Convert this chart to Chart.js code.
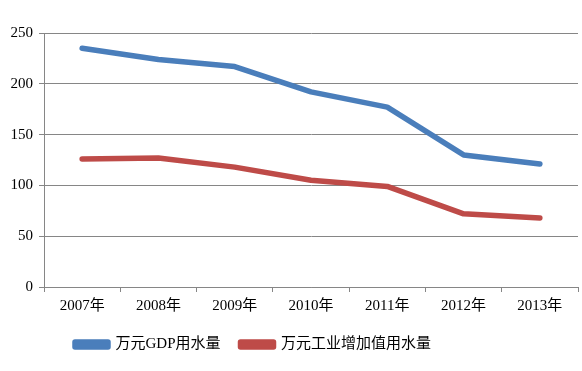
<!DOCTYPE html>
<html>
<head>
<meta charset="utf-8">
<script src="https://cdn.jsdelivr.net/npm/chart.js@4"></script>
<style>
  html, body { margin: 0; padding: 0; background: #fff; }
  #wrap { width: 582px; height: 371px; }
</style>
</head>
<body>
<div id="wrap"><canvas id="chart" width="582" height="371"></canvas></div>
<script>
const years = ['2007年', '2008年', '2009年', '2010年', '2011年', '2012年', '2013年'];
const gdpWater = [235, 224, 217, 192, 177, 130, 121];
const industryWater = [126, 127, 118, 105, 99, 72, 68];
const seriesNames = ['万元GDP用水量', '万元工业增加值用水量'];
const yTicks = [0, 50, 100, 150, 200, 250];

const FONT = '"Liberation Serif", "Noto Sans CJK SC", serif';
const GRID = '#868686';

// the legend in the picture sits left of centre
const legendShift = {
    id: 'legendShift',
    beforeDraw(chart) {
        const lg = chart.legend;
        if (lg && !lg._shifted) {
            lg.left -= 36;
            lg.right -= 36;
            lg._shifted = true;
        }
    }
};

new Chart(document.getElementById('chart'), {
    type: 'line',
    data: {
        labels: years,
        datasets: [
            {
                label: seriesNames[0],
                data: gdpWater,
                borderColor: '#4a7ebb',
                backgroundColor: '#4a7ebb',
                borderWidth: 5.5,
                pointRadius: 0,
                tension: 0,
                borderCapStyle: 'round',
                borderJoinStyle: 'round'
            },
            {
                label: seriesNames[1],
                data: industryWater,
                borderColor: '#be4b48',
                backgroundColor: '#be4b48',
                borderWidth: 5.5,
                pointRadius: 0,
                tension: 0,
                borderCapStyle: 'round',
                borderJoinStyle: 'round'
            }
        ]
    },
    options: {
        responsive: false,
        animation: false,
        layout: { padding: { left: 0, right: 4, top: 33, bottom: 9 } },
        plugins: {
            tooltip: { enabled: false },
            legend: {
                position: 'bottom',
                labels: {
                    color: '#000',
                    font: { family: FONT, size: 15 },
                    boxWidth: 33,
                    boxHeight: 5,
                    padding: 20
                }
            }
        },
        scales: {
            x: {
                offset: true,
                grid: {
                    offset: true,
                    drawOnChartArea: false,
                    color: GRID,
                    tickLength: 5
                },
                border: { color: GRID },
                ticks: {
                    color: '#000',
                    font: { family: FONT, size: 15 },
                    padding: 5,
                    maxRotation: 0
                },
                afterFit: s => { s.height = 30; }
            },
            y: {
                min: 0,
                max: 250,
                afterBuildTicks: s => { s.ticks = yTicks.map(v => ({ value: v })); },
                grid: { color: GRID, tickLength: 5 },
                border: { color: GRID },
                ticks: {
                    color: '#000',
                    font: { family: FONT, size: 15 },
                    padding: 6
                },
                afterFit: s => { s.width = 44; }
            }
        }
    },
    plugins: [legendShift]
});
</script>
</body>
</html>
